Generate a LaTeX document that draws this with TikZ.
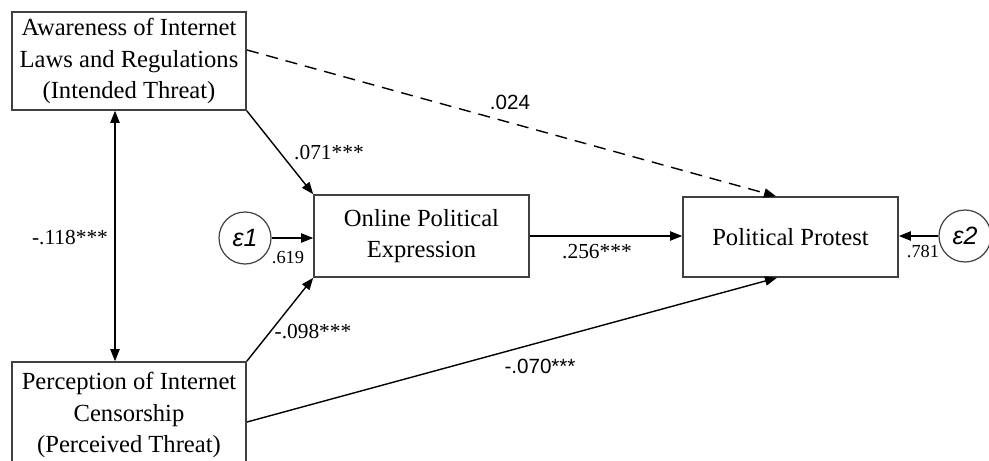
\documentclass[tikz,border=0pt]{standalone}
\usepackage{fontspec}
\setmainfont{Liberation Serif}
\setsansfont{Liberation Sans}
\usetikzlibrary{arrows.meta}
\begin{document}
\begin{tikzpicture}[x=0.5pt,y=-0.5pt,
  box/.style={draw=black!75,line width=0.8pt,fill=white,inner sep=0pt,align=center,
    font=\fontsize{12.3}{15.8}\selectfont},
  err/.style={draw=black!75,line width=0.6pt,circle,inner sep=0pt,
    font=\sffamily\itshape\fontsize{12.5}{13}\selectfont},
  path/.style={line width=0.7pt,-{Triangle[length=6pt,width=4.6pt]}},
  both/.style={line width=0.7pt,{Triangle[length=6pt,width=4.6pt]}-{Triangle[length=6pt,width=4.6pt]}},
  coef/.style={inner sep=0pt,font=\fontsize{10.7}{12}\selectfont},
  coefs/.style={inner sep=0pt,font=\sffamily\fontsize{10.3}{12}\selectfont},
  res/.style={inner sep=0pt,font=\fontsize{9.2}{10}\selectfont}]
\useasboundingbox (0,0) rectangle (989,460);
\clip (0,0) rectangle (989,460);
\fill[white] (0,0) rectangle (989,460);

\node[box,minimum width=117pt,minimum height=49pt] (A) at (129,61)
  {Awareness of Internet\\Laws and Regulations\\(Intended Threat)};
\node[box,minimum width=117pt,minimum height=53pt] (P) at (129,415)
  {Perception of Internet\\Censorship\\(Perceived Threat)};
\node[box,minimum width=107.5pt,minimum height=41pt] (O) at (421.5,236)
  {Online Political\\Expression};
\node[box,minimum width=107.5pt,minimum height=40pt] (PP) at (790.5,237)
  {Political Protest};
\node[err,minimum size=26pt] (e1) at (245,238) {ε1};
\node[err,minimum size=26pt] (e2) at (965,236) {ε2};

\coordinate (vx) at (115,0);
\coordinate (d1) at (247,50);
\coordinate (d2) at (776,0);
\coordinate (p1) at (247,422);
\coordinate (p2) at (777,0);

\draw[both] (A.south -| vx) -- (P.north -| vx);
\draw[path] (A.south east) -- (O.north west);
\draw[path] (P.north east) -- (O.south west);
\draw[path,dashed,dash pattern=on 6pt off 4pt] (d1) -- (PP.north -| d2);
\draw[path] (p1) -- (PP.south -| p2);
\draw[path] (O.east) -- (PP.west |- O.east);
\draw[path] (e1) -- (O.west |- e1);
\draw[path] (e2) -- (PP.east |- e2);

\node[coef] (l1) at (329,153) {.071***};
\node[coefs] (l2) at (510,102) {.024};
\node[coef] (l3) at (70,238) {-.118***};
\node[coef] (l4) at (313,332) {-.098***};
\node[coef] (l5) at (597,252) {.256***};
\node[coefs] (l6) at (540,366) {-.070***};
\node[res] (l7) at (288,258) {.619};
\node[res] (l8) at (923,252) {.781};
\end{tikzpicture}
\end{document}
